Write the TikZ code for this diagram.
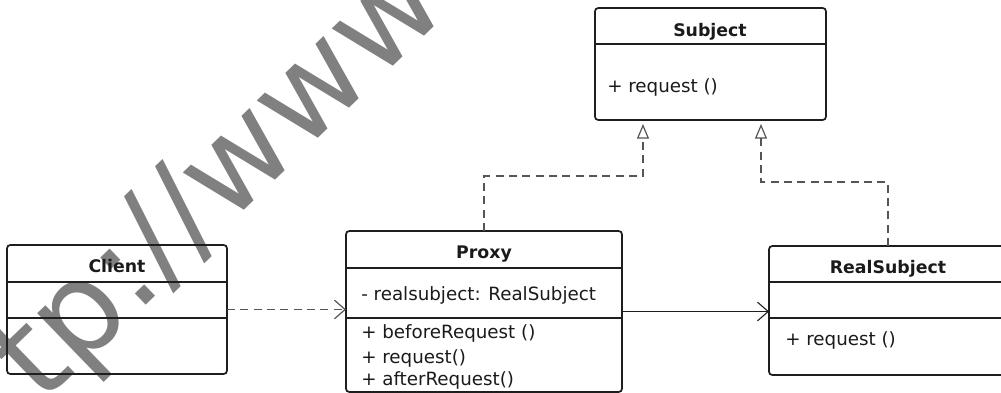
\documentclass[tikz,border=0pt]{standalone}
\usepackage{fontspec}
\setmainfont{DejaVu Sans}
\usetikzlibrary{arrows.meta}
\definecolor{umlline}{HTML}{1E1E1E}
\definecolor{umldash}{HTML}{555555}
\definecolor{umltext}{HTML}{1A1A1A}
\definecolor{markgray}{HTML}{808080}
\tikzset{
  classbox/.style={draw=umlline, line width=1.3pt, rounded corners=2.5pt, anchor=north west, inner sep=0pt, outer sep=0pt},
  classline/.style={draw=umlline, line width=1.3pt},
  classname/.style={font=\fontsize{13}{16}\selectfont\bfseries, text=umltext, anchor=base, inner sep=0pt},
  member/.style={font=\fontsize{13.7}{16}\selectfont, text=umltext, anchor=base west, inner sep=0pt},
  realize/.style={draw=umldash, line width=0.9pt, dash pattern=on 6pt off 4pt, -{Triangle[open, length=11pt, width=9pt]}},
  depend/.style={draw=umldash, line width=0.9pt, dash pattern=on 6pt off 4pt, -{Straight Barb[length=8pt, width=14pt]}},
  assoc/.style={draw=umlline, line width=0.8pt, -{Straight Barb[length=8pt, width=14pt]}},
  watermark/.style={font=\fontsize{95}{100}\selectfont, text=markgray, inner sep=0pt},
}
\begin{document}
\begin{tikzpicture}[x=0.75pt, y=-0.75pt]
  \useasboundingbox (0,0) rectangle (1001,393);

  % watermark
  \node[watermark, rotate=44, anchor=base west] (wm) at (-52,496) {http://www};

  % Subject
  \node[classbox, minimum width=231*0.75pt, minimum height=112*0.75pt] (subject) at (595,8) {};
  \draw[classline] (595,44) -- (826,44);
  \node[classname] (subjectname) at (710,36) {Subject};
  \node[member] (subjectop) at (607,92) {+ request ()};

  % Client
  \node[classbox, minimum width=220*0.75pt, minimum height=129*0.75pt] (client) at (7,245) {};
  \draw[classline] (7,282) -- (227,282);
  \draw[classline] (7,318) -- (227,318);
  \node[classname] (clientname) at (117,272) {Client};

  % Proxy
  \node[classbox, minimum width=276*0.75pt, minimum height=161*0.75pt] (proxy) at (346,231) {};
  \draw[classline] (346,268) -- (622,268);
  \draw[classline] (346,318) -- (622,318);
  \node[classname] (proxyname) at (484,258) {Proxy};
  \node[member] (proxyattr) at (361,300) {- realsubject: RealSubject};
  \node[member] (proxyop1) at (361,338) {+ beforeRequest ()};
  \node[member] (proxyop2) at (361,363) {+ request()};
  \node[member] (proxyop3) at (361,385) {+ afterRequest()};

  % RealSubject
  \node[classbox, minimum width=238*0.75pt, minimum height=129*0.75pt] (real) at (769,246) {};
  \draw[classline] (769,282) -- (1007,282);
  \draw[classline] (769,318) -- (1007,318);
  \node[classname] (realname) at (888,273) {RealSubject};
  \node[member] (realop) at (785,345) {+ request ()};

  % relations
  \coordinate (proxytip) at (643,124);
  \coordinate (realtip) at (761,124);
  \draw[realize] (proxy.north) -- ++(0,-55) -| (proxytip);
  \draw[realize] (real.north) -- ++(0,-64) -| (realtip);
  \draw[depend] (client.east) -- (client.east -| proxy.west);
  \draw[assoc] (proxy.east) -- (proxy.east -| real.west);
\end{tikzpicture}
\end{document}
